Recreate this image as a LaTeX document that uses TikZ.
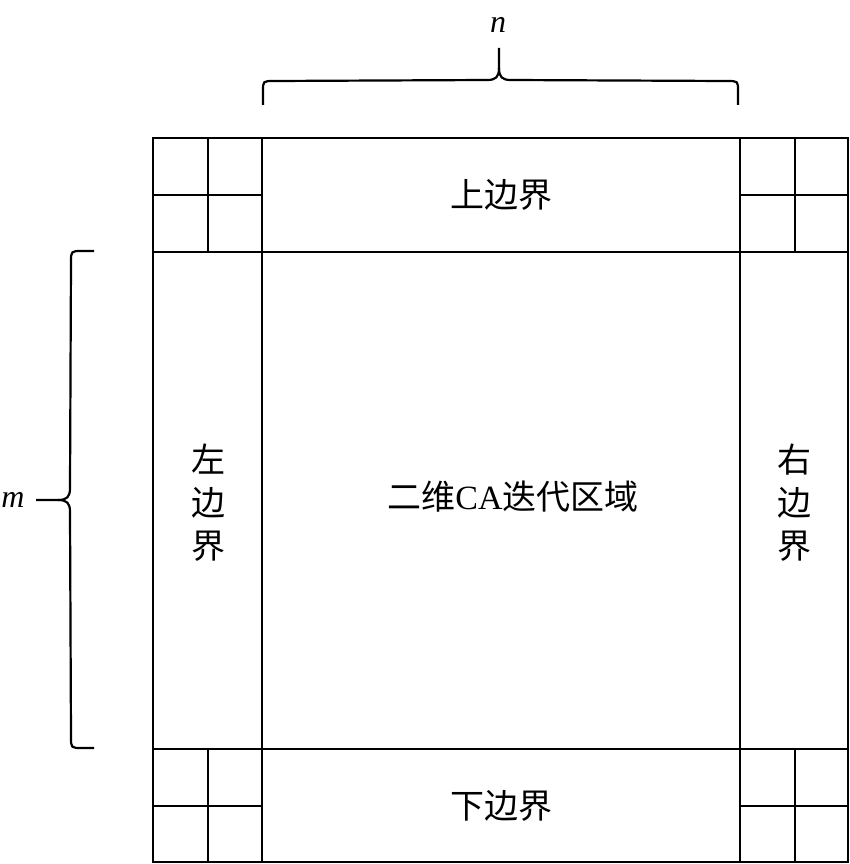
\documentclass[tikz,border=0pt]{standalone}
\usepackage{fontspec}
\setmainfont{Liberation Serif}
\newfontfamily\cjk{Noto Sans CJK SC}
\begin{document}
\begin{tikzpicture}[x=1pt,y=-1pt,line width=2pt,
  lbl/.style={inner sep=0pt,font=\fontsize{34}{43}\selectfont\cjk,align=center},
  var/.style={inner sep=0pt,font=\fontsize{32}{36}\selectfont\itshape},
  brc/.style={line width=2.2pt,line join=round}]
\useasboundingbox (0,0) rectangle (850,864);
% outer frame and grid
\draw (153,138) rectangle (848,862);
\draw (262,138) -- (262,862);
\draw (740,138) -- (740,862);
\draw (153,252) -- (848,252);
\draw (153,749) -- (848,749);
% corner subdivisions
\draw (208,138) -- (208,252);
\draw (153,195) -- (262,195);
\draw (795,138) -- (795,252);
\draw (740,195) -- (848,195);
\draw (208,749) -- (208,862);
\draw (153,806) -- (262,806);
\draw (795,749) -- (795,862);
\draw (740,806) -- (848,806);
% labels
\node[lbl] (top) at (501,195) {上边界};
\node[lbl] (bottom) at (501,806) {下边界};
\node[lbl] (left) at (208,503) {左\\边\\界};
\node[lbl] (right) at (794,503) {右\\边\\界};
\node[lbl] (center) at (513,497) {二维{\rmfamily CA}迭代区域};
\node[var] (n) at (498,25) {n};
\node[var] (m) at (13,500) {m};
% top brace
\coordinate (tb) at (499,48);
\draw[brc] (263,105) -- (263,91) .. controls (263,81) .. (274,81) -- (487,80) .. controls (496,80) and (499,77) .. (499,68) -- (tb);
\draw[brc] (738,105) -- (738,91) .. controls (738,81) .. (727,81) -- (511,80) .. controls (502,80) and (499,77) .. (499,68);
% left brace
\coordinate (lb) at (36,500);
\draw[brc] (94,251) -- (82,251) .. controls (71,251) .. (71,262) -- (70,488) .. controls (70,497) and (67,500) .. (58,500) -- (lb);
\draw[brc] (94,748) -- (82,748) .. controls (71,748) .. (71,737) -- (70,512) .. controls (70,503) and (67,500) .. (58,500);
\end{tikzpicture}
\end{document}
